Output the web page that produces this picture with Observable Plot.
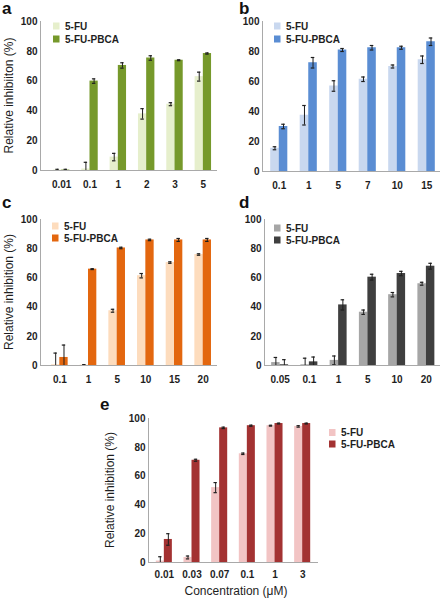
<!DOCTYPE html>
<html><head><meta charset="utf-8">
<script src="https://cdn.jsdelivr.net/npm/d3@7"></script>
<script src="https://cdn.jsdelivr.net/npm/@observablehq/plot@0.6"></script>
<style>
body{margin:0;background:#fff;}
#root{position:relative;width:444px;height:598px;overflow:hidden;font-family:"Liberation Sans",Arial,sans-serif;}
.panel{position:absolute;}
#overlay{position:absolute;left:0;top:0;pointer-events:none;}
</style></head><body><div id="root"></div>
<script>
const series = ["5-FU", "5-FU-PBCA"];
const yTicks = [0, 20, 40, 60, 80, 100];

// Panel a
const aConc = ["0.01", "0.1", "1", "2", "3", "5"];
const aFU = [0.3, 1, 9, 38, 44.5, 63];
const aFUerr = [0.5, 4.5, 2.5, 3.5, 1, 3];
const aPBCA = [0.3, 60, 70.5, 75.5, 74, 78.5];
const aPBCAerr = [0.5, 1.5, 1.8, 1.5, 0.3, 0.4];
const aColors = ["#e6efcc", "#76992b"];
const aYLabel = "Relative inhibiiton (%)";

// Panel b
const bConc = ["0.1", "1", "5", "7", "10", "15"];
const bFU = [15.5, 37.5, 57, 61.5, 70, 74.5];
const bFUerr = [1, 6.5, 3.5, 1.5, 1, 2.5];
const bPBCA = [30, 72.5, 81, 82.5, 82.5, 86.5];
const bPBCAerr = [1.5, 3.5, 1, 1.5, 1, 2.5];
const bColors = ["#c9d8ef", "#5a8dd3"];

// Panel c
const cConc = ["0.1", "1", "5", "10", "15", "20"];
const cFU = [0.5, 0.3, 37.5, 61.5, 70.5, 76];
const cFUerr = [8, 0.3, 1, 1.5, 0.5, 0.5];
const cPBCA = [5.5, 66, 80.5, 86, 86, 86];
const cPBCAerr = [8.5, 0.3, 0.5, 0.5, 1, 1];
const cColors = ["#fddcbd", "#e3670f"];
const cYLabel = "Relative inhibition (%)";

// Panel d
const dConc = ["0.05", "0.1", "1", "5", "10", "20"];
const dFU = [2, 0.5, 3.5, 36.5, 48.5, 56];
const dFUerr = [3.5, 4.5, 3, 1.5, 1.5, 1];
const dPBCA = [0.5, 2.5, 41.5, 60.5, 63, 68];
const dPBCAerr = [3.5, 3.3, 3.5, 2, 1.5, 2];
const dColors = ["#a6a6a6", "#3f3f3f"];

// Panel e
const eConc = ["0.01", "0.03", "0.07", "0.1", "1", "3"];
const eFU = [1, 3.5, 52, 75.5, 95, 94.5];
const eFUerr = [3, 1, 3.5, 0.5, 0.3, 0.5];
const ePBCA = [16, 71, 93.5, 95, 96.5, 96.5];
const ePBCAerr = [4, 0.7, 0.5, 0.4, 0.3, 0.3];
const eColors = ["#f2c4c4", "#a33232"];
const eYLabel = "Relative inhibition (%)";
const eXLabel = "Concentration (μM)";

const FONT = '"Liberation Sans", Arial, sans-serif';
const BW = 0.29;   // bar width as fraction of group step
const CAP = 0.06;  // half cap width
const AXIS = "#a9a9a9";
const INK = "#1e1e1e";

const root = document.getElementById("root");

function panel(cfg) {
  const {conc, fu, fuErr, pb, pbErr, colors, left, top, width, height, mt, mb, ml, mr, xr, tickPad} = cfg;
  const n = conc.length;
  const rows = conc.flatMap((c, i) => [
    {i, s: 0, v: fu[i], e: fuErr[i]},
    {i, s: 1, v: pb[i], e: pbErr[i]}
  ]);
  const ctr = d => d.i + (d.s - 0.5) * BW;
  const marks = [
    Plot.rect(rows, {x1: d => d.i + (d.s - 1) * BW, x2: d => d.i + d.s * BW, y1: 0, y2: "v", fill: d => series[d.s]}),
    Plot.ruleX(rows, {x: ctr, y1: d => d.v - d.e, y2: d => d.v + d.e, stroke: INK, strokeWidth: 1, clip: true}),
    Plot.ruleY(rows, {y: d => d.v + d.e, x1: d => ctr(d) - CAP, x2: d => ctr(d) + CAP, stroke: INK, strokeWidth: 1.2, clip: true}),
    Plot.ruleY(rows, {y: d => d.v - d.e, x1: d => ctr(d) - CAP, x2: d => ctr(d) + CAP, stroke: INK, strokeWidth: 1.2, clip: true}),
    Plot.ruleY([0], {stroke: AXIS}),
    Plot.ruleX([-0.5], {dx: -(xr[0] - ml), stroke: AXIS}),
    Plot.axisY({ticks: yTicks, tickSize: 0, tickPadding: 3, label: null, fontWeight: "bold", fill: INK}),
    Plot.axisX({ticks: d3.range(n), tickFormat: i => conc[i], tickSize: 0, tickPadding: tickPad, label: null, fontWeight: "bold", fill: INK})
  ];
  const chart = Plot.plot({
    width, height,
    marginTop: mt, marginBottom: mb, marginLeft: ml, marginRight: mr,
    style: {fontFamily: FONT, fontSize: "10px", color: INK, background: "transparent", overflow: "visible"},
    x: {type: "linear", domain: [-0.5, n - 0.5], range: xr},
    y: {domain: [0, 100]},
    color: {domain: series, range: colors},
    marks
  });
  const div = document.createElement("div");
  div.className = "panel";
  div.style.left = left + "px";
  div.style.top = top + "px";
  div.appendChild(chart);
  root.appendChild(div);
}

panel({conc: aConc, fu: aFU, fuErr: aFUerr, pb: aPBCA, pbErr: aPBCAerr, colors: aColors,
  left: 0, top: 0, width: 222, height: 195, mt: 21, mb: 25, ml: 40, mr: 5, xr: [47, 217], tickPad: 10});
panel({conc: bConc, fu: bFU, fuErr: bFUerr, pb: bPBCA, pbErr: bPBCAerr, colors: bColors,
  left: 222, top: 0, width: 222, height: 195, mt: 21, mb: 24, ml: 40, mr: 4, xr: [42, 219], tickPad: 10});
panel({conc: cConc, fu: cFU, fuErr: cFUerr, pb: cPBCA, pbErr: cPBCAerr, colors: cColors,
  left: 0, top: 195, width: 222, height: 195, mt: 24, mb: 25, ml: 40, mr: 5, xr: [45, 217], tickPad: 10});
panel({conc: dConc, fu: dFU, fuErr: dFUerr, pb: dPBCA, pbErr: dPBCAerr, colors: dColors,
  left: 222, top: 195, width: 222, height: 195, mt: 24, mb: 25, ml: 42, mr: 4, xr: [43, 218.5], tickPad: 10});
panel({conc: eConc, fu: eFU, fuErr: eFUerr, pb: ePBCA, pbErr: ePBCAerr, colors: eColors,
  left: 100, top: 395, width: 222, height: 203, mt: 23, mb: 36, ml: 48, mr: 4, xr: [50, 216], tickPad: 8});

// overlay: panel letters, axis titles and legends
const ov = d3.select(root).append("svg").attr("id", "overlay").attr("width", 444).attr("height", 598)
  .style("font-family", FONT);
const letters = [["a", 2, 14], ["b", 239, 14], ["c", 2, 208], ["d", 239, 208], ["e", 100, 410]];
ov.selectAll("text.letter").data(letters).join("text").attr("class", "letter")
  .attr("x", d => d[1]).attr("y", d => d[2]).text(d => d[0])
  .attr("font-size", 17).attr("font-weight", "bold").attr("fill", "#111");

const yTitles = [[aYLabel, 8.5, 95.5], [cYLabel, 8.5, 292], [eYLabel, 110, 490]];
ov.selectAll("text.ytitle").data(yTitles).join("text").attr("class", "ytitle")
  .attr("transform", d => `translate(${d[1]},${d[2]}) rotate(-90)`)
  .attr("text-anchor", "middle").attr("dy", "0.35em").text(d => d[0])
  .attr("font-size", 12).attr("fill", INK);

ov.append("text").attr("x", 236).attr("y", 595).attr("text-anchor", "middle")
  .text(eXLabel).attr("font-size", 12).attr("fill", INK);

const legends = [
  {x: 53, ys: [26, 39], colors: aColors},
  {x: 274, ys: [26, 39], colors: bColors},
  {x: 52, ys: [226, 238], colors: cColors},
  {x: 274, ys: [228, 240], colors: dColors},
  {x: 329, ys: [432.5, 444], colors: eColors}
];
legends.forEach(L => {
  series.forEach((s, k) => {
    ov.append("rect").attr("x", L.x).attr("y", L.ys[k] - 3.5).attr("width", 6.5).attr("height", 7).attr("fill", L.colors[k]);
    ov.append("text").attr("x", L.x + 12).attr("y", L.ys[k]).attr("dy", "0.35em").text(s)
      .attr("font-size", 10).attr("font-weight", "bold").attr("fill", INK);
  });
});
</script></body></html>
